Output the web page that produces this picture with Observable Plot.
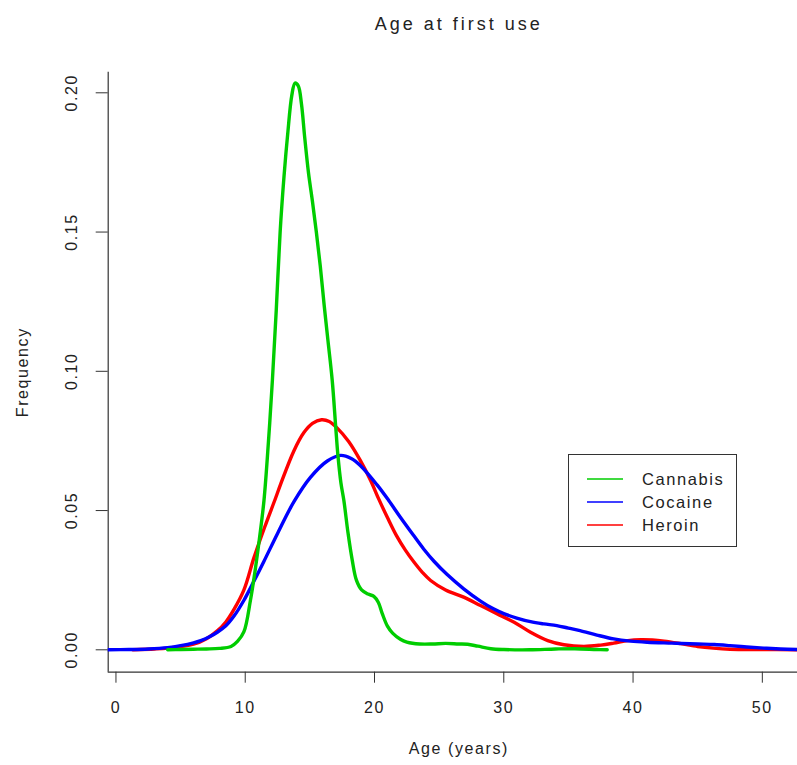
<!DOCTYPE html>
<html>
<head>
<meta charset="utf-8">
<script src="https://cdn.jsdelivr.net/npm/d3@7"></script>
<script src="https://cdn.jsdelivr.net/npm/@observablehq/plot@0.6"></script>
<style>
  body { margin: 0; background: #fff; }
  #wrap { position: relative; width: 797px; height: 765px; overflow: hidden;
          font-family: "Liberation Sans", Arial, Helvetica, sans-serif; color: #222; }
  #legend { position: absolute; border: 1px solid #333; background: #fff; box-sizing: border-box; }
  #legend .sw { position: absolute; width: 36px; height: 2px; }
  #legend .lab { position: absolute; font-size: 16.5px; letter-spacing: 1.6px; line-height: 20px; color: #222; white-space: nowrap; }
</style>
</head>
<body>
<div id="wrap"></div>
<script>
// ---------- data ----------
const seriesNames = ["Cannabis", "Cocaine", "Heroin"];
const seriesColors = ["#00cd00", "#0000ff", "#ff0000"];

const cannabisAge  = [4.0, 5, 6, 7, 8, 8.9, 9.4, 9.9, 10.4, 10.8, 11.1, 11.45, 11.8, 12.1, 12.4, 12.7, 13.0, 13.3, 13.6, 13.85, 14.1, 14.35, 14.6, 14.9, 15.2, 15.5, 15.8, 16.1, 16.4, 16.73, 17.0, 17.17, 17.4, 17.63, 17.95, 18.28, 18.6, 19.0, 19.5, 19.95, 20.3, 20.6, 21.0, 21.4, 22.0, 22.5, 23.5, 24.5, 25.5, 26.5, 27.2, 28.0, 29.0, 30, 32, 34, 35.5, 37.2, 38];
const cannabisFreq = [0, 0.0001, 0.0002, 0.0003, 0.0005, 0.0012, 0.003, 0.0065, 0.0177, 0.0296, 0.040, 0.0536, 0.075, 0.0967, 0.122, 0.150, 0.170, 0.186, 0.199, 0.2035, 0.2025, 0.196, 0.184, 0.171, 0.161, 0.150, 0.138, 0.124, 0.111, 0.0967, 0.080, 0.0698, 0.060, 0.0536, 0.042, 0.0321, 0.025, 0.0215, 0.020, 0.0192, 0.0170, 0.013, 0.0085, 0.0060, 0.0038, 0.0028, 0.0021, 0.0021, 0.0023, 0.0021, 0.0020, 0.0013, 0.0004, 0.0001, 0, 0.0003, 0.0004, 0.0001, 0];

const cocaineAge  = [-0.6, 1, 2.5, 4, 5, 6, 6.56, 7.2, 7.84, 8.5, 9.13, 9.9, 10.67, 11.45, 12.5, 13.77, 15.06, 16.35, 17.38, 18.2, 18.9, 20.2, 21.1, 22, 23, 23.8, 24.6, 25.6, 26.9, 28.2, 29.2, 30.0, 31, 32.07, 33.1, 34.1, 35.0, 35.9, 37.2, 38.5, 39.8, 41.1, 43, 45, 46.3, 47.5, 48.8, 50.1, 51.4, 52.7];
const cocaineFreq = [0, 0.0001, 0.0003, 0.0008, 0.0015, 0.0025, 0.0033, 0.0046, 0.0063, 0.0086, 0.0121, 0.0178, 0.0246, 0.0318, 0.0418, 0.0532, 0.0620, 0.0678, 0.0698, 0.0687, 0.0662, 0.0592, 0.0536, 0.0476, 0.0412, 0.0362, 0.0318, 0.0271, 0.0219, 0.0175, 0.0147, 0.0130, 0.0114, 0.0101, 0.0093, 0.0087, 0.0078, 0.0069, 0.0053, 0.0039, 0.0031, 0.0027, 0.0024, 0.0021, 0.0019, 0.0015, 0.0010, 0.0006, 0.0003, 0.0001];

const heroinAge  = [1.3, 3, 4, 5, 6, 7, 7.84, 8.5, 9.13, 9.9, 10.67, 11.5, 12.35, 12.74, 13.77, 14.54, 15.2, 15.9, 16.5, 17.1, 18.0, 18.9, 19.7, 20.34, 21.0, 21.7, 22.4, 23.05, 23.7, 24.34, 25.5, 26.9, 28.2, 29.5, 30.8, 32.07, 33.4, 34.65, 36.2, 37.5, 38.5, 39.6, 40.6, 41.5, 42.4, 43.7, 45, 46.2, 47.5, 50, 52.7];
const heroinFreq = [0, 0.0003, 0.0006, 0.0012, 0.0020, 0.0040, 0.0068, 0.0100, 0.0145, 0.0215, 0.0330, 0.0440, 0.0545, 0.0595, 0.0715, 0.0780, 0.0813, 0.0826, 0.0820, 0.0797, 0.0748, 0.0680, 0.0608, 0.0540, 0.0475, 0.0410, 0.0357, 0.0315, 0.0278, 0.0249, 0.0215, 0.0189, 0.0159, 0.0129, 0.0099, 0.0063, 0.0033, 0.0018, 0.0012, 0.0017, 0.0024, 0.0033, 0.0036, 0.0035, 0.0031, 0.0022, 0.0012, 0.0006, 0.0002, 0.0001, 0];

const xTicks = [0, 10, 20, 30, 40, 50];
const yTicks = [0, 0.05, 0.10, 0.15, 0.20];
const titleText = "Age at first use";
const xLabel = "Age (years)";
const yLabel = "Frequency";

// ---------- build table (drawing order: Heroin, Cocaine, Cannabis) ----------
const toRows = (name, ages, freqs) => ages.map((a, i) => ({drug: name, age: a, freq: freqs[i]}));
const rows = [
  ...toRows("Heroin", heroinAge, heroinFreq),
  ...toRows("Cocaine", cocaineAge, cocaineFreq),
  ...toRows("Cannabis", cannabisAge, cannabisFreq)
];

const W = 797, H = 765;
const frameLeft = 107.7, frameTop = 71.7, frameBottom = 671.7;
const xDomain = [-0.6, 52.72];
const yDomain = [-0.00804, 0.2074];
const legendAt = {age: 35, freq: 0.07};

const plot = Plot.plot({
  width: W,
  height: H,
  marginLeft: frameLeft,
  marginRight: 0,
  marginTop: frameTop,
  marginBottom: H - frameBottom,
  x: {domain: xDomain},
  y: {domain: yDomain},
  color: {domain: seriesNames, range: seriesColors},
  style: {fontFamily: '"Liberation Sans", Arial, Helvetica, sans-serif', fontSize: "16px", color: "#222", background: "#fff", overflow: "visible"},
  marks: [
    Plot.ruleX([xDomain[0]], {stroke: "#333", strokeWidth: 1.2}),
    Plot.ruleY([yDomain[0]], {stroke: "#333", strokeWidth: 1.2}),
    Plot.axisX(xTicks, {tickSize: 11, tickPadding: 18, fontSize: 16, label: null, tickFormat: d => String(d), stroke: "#333"}),
    Plot.axisY(yTicks, {tickSize: 12, label: null, tickFormat: () => "", stroke: "#333"}),
    Plot.text(yTicks, {y: d => d, frameAnchor: "left", dx: -36, rotate: -90, text: d => d.toFixed(2), fontSize: 16, fill: "#222", lineAnchor: "middle", textAnchor: "middle"}),
    Plot.line(rows, {x: "age", y: "freq", z: "drug", stroke: "drug", strokeWidth: 3.4, curve: "catmull-rom", clip: true}),
    Plot.text([titleText], {frameAnchor: "top", dy: -55, dx: 6, text: d => d, fontSize: 18, fill: "#222", textAnchor: "middle"}),
    Plot.text([xLabel], {frameAnchor: "bottom", dy: 82, dx: 6, text: d => d, fontSize: 16, fill: "#222", textAnchor: "middle"}),
    Plot.text([yLabel], {frameAnchor: "left", dx: -85.7, rotate: -90, text: d => d, fontSize: 16, fill: "#222", textAnchor: "middle"})
  ]
});

const wrap = document.getElementById("wrap");
wrap.appendChild(plot);
plot.style.position = "absolute";
plot.style.left = "0px";
plot.style.top = "0px";

// letter spacing like the reference rendering
d3.select(plot).selectAll("text").style("letter-spacing", "1.6px");
d3.select(plot).selectAll("text").filter(function () { return this.textContent === titleText; }).style("letter-spacing", "3px");

// ---------- legend, anchored at data coordinates through the plot scales ----------
const sx = plot.scale("x"), sy = plot.scale("y");
const lg = document.createElement("div");
lg.id = "legend";
lg.style.left = sx.apply(legendAt.age) + "px";
lg.style.top = sy.apply(legendAt.freq) + "px";
lg.style.width = "169px";
lg.style.height = "93px";
seriesNames.forEach((name, i) => {
  const sw = document.createElement("div");
  sw.className = "sw";
  sw.style.left = "18px";
  sw.style.top = (23 + i * 23) + "px";
  sw.style.backgroundColor = seriesColors[i];
  sw.style.opacity = "0.75";
  const lab = document.createElement("div");
  lab.className = "lab";
  lab.style.left = "73px";
  lab.style.top = (14 + i * 23) + "px";
  lab.textContent = name;
  lg.appendChild(sw);
  lg.appendChild(lab);
});
wrap.appendChild(lg);
</script>
</body>
</html>
